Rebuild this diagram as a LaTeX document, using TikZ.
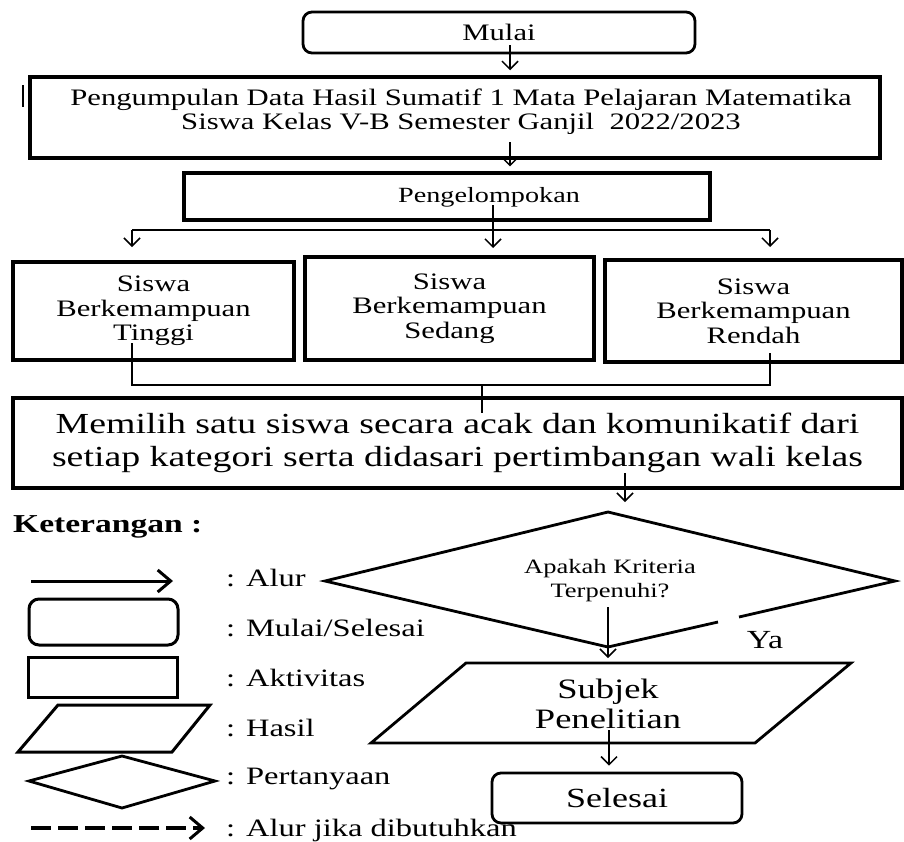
\documentclass[tikz,border=0pt]{standalone}
\usepackage{fontspec}
\setmainfont{Liberation Serif}[FakeStretch=1.3]
\usetikzlibrary{arrows.meta}
\newcommand\fs[2]{\fontsize{#1}{#2}\selectfont}
\begin{document}
\begin{tikzpicture}[x=1pt,y=-1pt,
  box/.style={draw, line width=3.2pt, inner sep=0pt, align=center},
  rbox/.style={draw, line width=2.8pt, rounded corners=9pt, inner sep=0pt, align=center},
  lbl/.style={inner sep=0pt, align=center},
  shp/.style={line width=2.8pt, line join=miter},
  conn/.style={line width=1.5pt, -{Straight Barb[length=8pt,width=16pt,line width=1.5pt]}},
  plain/.style={line width=1.5pt},
  legarrow/.style={line width=3pt, -{Straight Barb[length=13pt,width=22pt,line width=3pt]}},
  legdash/.style={line width=3.5pt, dash pattern=on 20pt off 7pt, -{Straight Barb[length=13pt,width=22pt,line width=3pt]}},
  legtxt/.style={inner sep=0pt, anchor=west, font=\fs{25}{28}},
  small/.style={font=\fs{23.6}{24.5}}
]
\useasboundingbox[fill=white] (0,0) rectangle (904,841);

% ---------- main flow ----------
\node[rbox, minimum width=392pt, minimum height=41pt, small] (mulai) at (499,32.5) {Mulai};

\draw[line width=2pt] (23,85) -- (23,107);
\node[box, line width=3.5pt, minimum width=850pt, minimum height=81pt] (kumpul) at (455,117.5) {};
\node[lbl, font=\fs{23.6}{24}] (tkumpul) at (461,112) {Pengumpulan Data Hasil Sumatif 1 Mata Pelajaran Matematika\\Siswa Kelas V-B Semester Ganjil\ \ 2022/2023};

\node[box, minimum width=526pt, minimum height=47pt] (kelompok) at (447,196.5) {};
\node[lbl, font=\fs{21.7}{24}] (tkelompok) at (489,197) {Pengelompokan};

\node[box, minimum width=281pt, minimum height=98pt, small] (b1) at (153.5,311) {Siswa\\Berkemampuan\\Tinggi};
\node[box, minimum width=289pt, minimum height=103pt, small] (b2) at (449.5,308.5) {Siswa\\Berkemampuan\\Sedang};
\node[box, minimum width=297pt, minimum height=102pt, small] (b3) at (753.5,311) {Siswa\\Berkemampuan\\Rendah};

\node[box, line width=3.5pt, minimum width=889pt, minimum height=90pt, font=\fs{29.1}{32.5}] (pilih) at (457.5,443) {Memilih satu siswa secara acak dan komunikatif dari\\setiap kategori serta didasari pertimbangan wali kelas};

% diamond
\coordinate (dl) at (325,581);
\coordinate (dt) at (608,512);
\coordinate (dr) at (895,581);
\coordinate (db) at (608,647);
\coordinate (g1) at (739,617);
\coordinate (g2) at (718,622);
\draw[shp] (g2) -- (db) -- (dl) -- (dt) -- (dr) -- (g1);
\node[lbl, font=\fs{20.4}{24}] (tanya) at (610,581) {Apakah Kriteria\\Terpenuhi?};
\node[lbl, font=\fs{26.1}{28}] (ya) at (765,640) {Ya};

% parallelogram
\coordinate (p1) at (466,663);
\coordinate (p2) at (851,663);
\coordinate (p3) at (755,743);
\coordinate (p4) at (371,743);
\draw[shp] (p1) -- (p2) -- (p3) -- (p4) -- cycle;
\node[lbl, font=\fs{28.1}{30.5}] (subjek) at (608,704) {Subjek\\Penelitian};

\node[rbox, minimum width=250pt, minimum height=50pt, font=\fs{27.7}{30}] (selesai) at (617,798) {Selesai};

% ---------- connectors ----------
\coordinate (a1s) at (510,45);
\draw[conn, shorten >=5pt] (a1s) -- (a1s |- kumpul.north);
\coordinate (a2s) at (510,142);
\draw[conn, shorten >=5pt] (a2s) -- (a2s |- kelompok.north);
\coordinate (a3s) at (493,205);
\coordinate (hl) at (132,230);
\coordinate (hr) at (770,230);
\draw[plain] (hl) -- (hr);
\draw[conn] (a3s) -- (493,248);
\draw[conn] (hl) -- (132,247);
\draw[conn] (hr) -- (770,247);

\coordinate (l1) at (132,343);
\coordinate (l3) at (770,353);
\coordinate (ll) at (132,385);
\coordinate (lr) at (770,385);
\coordinate (lm) at (482,385);
\coordinate (lme) at (482,413);
\draw[plain] (l1) -- (ll) -- (lr) -- (l3);
\draw[plain] (lm) -- (lme);

\coordinate (a5s) at (625,473);
\draw[conn] (a5s) -- (625,502);
\coordinate (a6s) at (608,607);
\draw[conn, shorten >=5pt] (a6s) -- (p1 -| a6s);
\coordinate (a7s) at (609,730);
\draw[conn, shorten >=6pt] (a7s) -- (a7s |- selesai.north);

% ---------- legend ----------
\node[inner sep=0pt, anchor=west, font=\bfseries\fs{25.8}{28}] (ket) at (13,527) {Keterangan :};

\coordinate (la1) at (31,581);
\coordinate (la2) at (173,581);
\draw[legarrow] (la1) -- (la2);
\node[legtxt] (t1) at (226,578) {: Alur};

\node[rbox, line width=3pt, rounded corners=10pt, minimum width=149pt, minimum height=46pt] (lg2) at (103.5,622) {};
\node[legtxt] (t2) at (226,628) {: Mulai/Selesai};

\node[box, line width=3pt, minimum width=149pt, minimum height=40pt] (lg3) at (102.5,677) {};
\node[legtxt] (t3) at (226,678) {: Aktivitas};

\draw[shp, line width=3pt] (58,705) -- (210,705) -- (172,752) -- (18,752) -- cycle;
\node[legtxt] (t4) at (226,728) {: Hasil};

\draw[shp, line width=2.8pt] (29,781) -- (122,756) -- (215,781) -- (122,808) -- cycle;
\node[legtxt] (t5) at (226,779) {: Pertanyaan};

\coordinate (ld1) at (31,828);
\coordinate (ld2) at (205,828);
\draw[legdash] (ld1) -- (ld2);
\node[legtxt] (t6) at (226,830) {: Alur jika dibutuhkan};
\end{tikzpicture}
\end{document}
